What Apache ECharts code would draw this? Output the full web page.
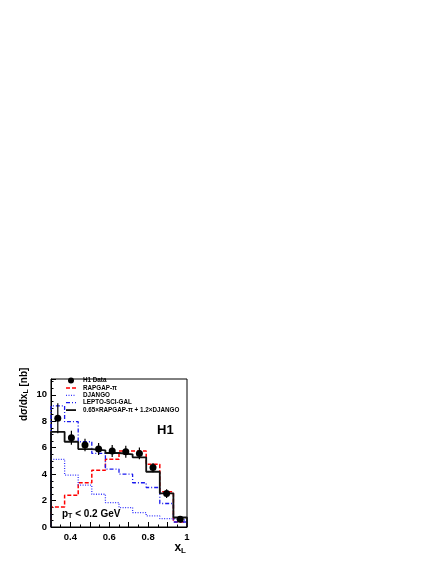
<!DOCTYPE html>
<html>
<head>
<meta charset="utf-8">
<script src="https://cdn.jsdelivr.net/npm/echarts@6/dist/echarts.min.js"></script>
<style>
  html, body { margin: 0; padding: 0; background: #fff; }
  #chart { width: 436px; height: 564px; }
</style>
</head>
<body>
<div id="chart"></div>
<script>
// bins in x_L
const binEdges = [0.3, 0.37, 0.44, 0.51, 0.58, 0.65, 0.72, 0.79, 0.86, 0.93, 1.0]
const binCenters = [0.335, 0.405, 0.475, 0.545, 0.615, 0.685, 0.755, 0.825, 0.895, 0.965]

// H1 data and errors [nb]
const h1Data = [8.23, 6.76, 6.2, 5.9, 5.75, 5.7, 5.57, 4.5, 2.53, 0.58]
const h1Err = [1.14, 0.53, 0.47, 0.45, 0.45, 0.45, 0.45, 0.35, 0.33, 0.2]

// MC predictions
const rapgap = [1.52, 2.4, 3.35, 4.3, 5.12, 5.75, 5.75, 4.74, 2.66, 0.38]
const django = [5.12, 3.93, 3.17, 2.48, 1.85, 1.47, 1.09, 0.84, 0.64, 0.51]
const lepto = [9.17, 7.97, 6.45, 5.57, 4.38, 4.0, 3.35, 2.99, 1.78, 0.38]
const combo = [7.2, 6.45, 5.9, 5.8, 5.6, 5.5, 5.27, 4.18, 2.55, 0.72]

const yTicks = [0, 2, 4, 6, 8, 10]
const xTickLabels = ['0.4', '0.6', '0.8', '1']

const legendNames = ['H1 Data', 'RAPGAP-\u03c0', 'DJANGO', 'LEPTO-SCI-GAL', '0.65\u00d7RAPGAP-\u03c0 + 1.2\u00d7DJANGO']

const FONT = 'Liberation Sans, Arial, Helvetica, sans-serif'

const styles = {
  rapgap: { color: '#ff0000', dash: [4, 2], width: 1.5 },
  django: { color: '#3535ff', dash: [1, 1.5], width: 1.3 },
  lepto: { color: '#1a1aee', dash: [4, 2, 1, 2], width: 1.3 },
  combo: { color: '#111', dash: null, width: 1.8 }
}

// histogram outline as step line through bin edges
function stepData (vals) {
  const d = [[binEdges[0], 0]]
  vals.forEach((v, i) => d.push([binEdges[i], v]))
  d.push([binEdges[vals.length], vals[vals.length - 1]])
  d.push([binEdges[vals.length], 0])
  return d
}

function histSeries (name, vals, st, z) {
  return {
    name: name,
    type: 'line',
    step: 'end',
    symbol: 'none',
    data: stepData(vals),
    lineStyle: { color: st.color, width: st.width, type: st.dash || 'solid' },
    z: z,
    silent: true
  }
}

// hand-drawn legend like the ROOT TLegend
function legendGraphics () {
  const g = []
  const x0 = 66
  const x1 = 76
  const textX = 83
  const y0 = 380.5
  const dy = 7.4
  const lineStyles = [null, styles.rapgap, styles.django, styles.lepto, styles.combo]
  legendNames.forEach((name, i) => {
    const y = y0 + i * dy
    const st = lineStyles[i]
    if (st) {
      g.push({
        type: 'line',
        shape: { x1: x0, y1: y, x2: x1, y2: y },
        style: { stroke: st.color, lineWidth: st.width, lineDash: st.dash }
      })
    } else {
      g.push({ type: 'circle', shape: { cx: 71, cy: y, r: 3 }, style: { fill: '#000' } })
    }
    g.push({
      type: 'text',
      x: textX,
      y: y,
      style: {
        text: name,
        font: 'bold 6.3px ' + FONT,
        fill: '#000',
        verticalAlign: 'middle'
      }
    })
  })
  return g
}

const chart = echarts.init(document.getElementById('chart'))

chart.setOption({
  animation: false,
  textStyle: { fontFamily: FONT },
  grid: {
    left: 51,
    right: 249,
    top: 379,
    bottom: 37,
    show: true,
    borderColor: '#000',
    borderWidth: 1
  },
  xAxis: {
    type: 'value',
    min: 0.3,
    max: 1.0,
    interval: 0.1,
    axisLine: { show: true, onZero: false, lineStyle: { color: '#000', width: 1 } },
    axisTick: { show: true, inside: true, length: 5, lineStyle: { color: '#000' } },
    minorTick: { show: true, splitNumber: 2, length: 2.5, lineStyle: { color: '#000' } },
    splitLine: { show: false },
    axisLabel: {
      margin: 5,
      fontSize: 9.5,
      fontWeight: 'bold',
      color: '#000',
      fontFamily: FONT,
      formatter: function (v) {
        const r = Math.round(v * 10)
        if (r % 2 !== 0) return ''
        const lbl = r === 10 ? '1' : (r / 10).toFixed(1)
        return xTickLabels.indexOf(lbl) >= 0 ? lbl : ''
      }
    }
  },
  yAxis: {
    type: 'value',
    min: 0,
    max: 11.2,
    interval: 2,
    axisLine: { show: true, lineStyle: { color: '#000', width: 1 } },
    axisTick: { show: true, inside: true, length: 5, lineStyle: { color: '#000' } },
    minorTick: { show: true, splitNumber: 4, length: 2.5, lineStyle: { color: '#000' } },
    splitLine: { show: false },
    axisLabel: {
      margin: 4,
      fontSize: 9.5,
      fontWeight: 'bold',
      color: '#000',
      fontFamily: FONT,
      showMaxLabel: false,
      formatter: function (v) {
        return yTicks.indexOf(Math.round(v * 10) / 10) >= 0 ? String(v) : ''
      }
    }
  },
  graphic: [
    {
      type: 'text',
      left: 157,
      top: 424,
      style: { text: 'H1', font: 'bold 13px ' + FONT, fill: '#000' }
    },
    {
      type: 'text',
      left: 62,
      top: 509,
      style: {
        text: '{a|p}{s|T}{a| < 0.2 GeV}',
        fill: '#000',
        rich: {
          a: { font: 'bold 10px ' + FONT, fill: '#000' },
          s: { font: 'bold 7px ' + FONT, fill: '#000', padding: [5, 0, 0, 0] }
        }
      }
    },
    {
      type: 'text',
      right: 250,
      top: 542,
      style: {
        text: '{a|x}{s|L}',
        fill: '#000',
        rich: {
          a: { font: 'bold 12px ' + FONT, fill: '#000' },
          s: { font: 'bold 8px ' + FONT, fill: '#000', padding: [6, 0, 0, 0] }
        }
      }
    },
    {
      type: 'text',
      x: 18,
      y: 421,
      rotation: Math.PI / 2,
      style: {
        text: '{a|d\u03c3/dx}{s|L}{a| [nb]}',
        fill: '#000',
        align: 'left',
        verticalAlign: 'top',
        rich: {
          a: { font: 'bold 10px ' + FONT, fill: '#000' },
          s: { font: 'bold 7px ' + FONT, fill: '#000', padding: [5, 0, 0, 0] }
        }
      }
    }
  ].concat(legendGraphics()),
  series: [
    histSeries(legendNames[1], rapgap, styles.rapgap, 2),
    histSeries(legendNames[2], django, styles.django, 3),
    histSeries(legendNames[3], lepto, styles.lepto, 4),
    histSeries(legendNames[4], combo, styles.combo, 5),
    {
      name: 'H1 errors',
      type: 'custom',
      z: 6,
      silent: true,
      data: binCenters.map((x, i) => [x, h1Data[i] - h1Err[i], h1Data[i] + h1Err[i]]),
      renderItem: function (params, api) {
        const lo = api.coord([api.value(0), api.value(1)])
        const hi = api.coord([api.value(0), api.value(2)])
        return {
          type: 'line',
          shape: { x1: lo[0], y1: lo[1], x2: hi[0], y2: hi[1] },
          style: { stroke: '#000', lineWidth: 1.2 }
        }
      }
    },
    {
      name: legendNames[0],
      type: 'scatter',
      symbol: 'circle',
      symbolSize: 7,
      z: 7,
      silent: true,
      itemStyle: { color: '#000', opacity: 1 },
      data: binCenters.map((x, i) => [x, h1Data[i]])
    }
  ]
})
</script>
</body>
</html>
